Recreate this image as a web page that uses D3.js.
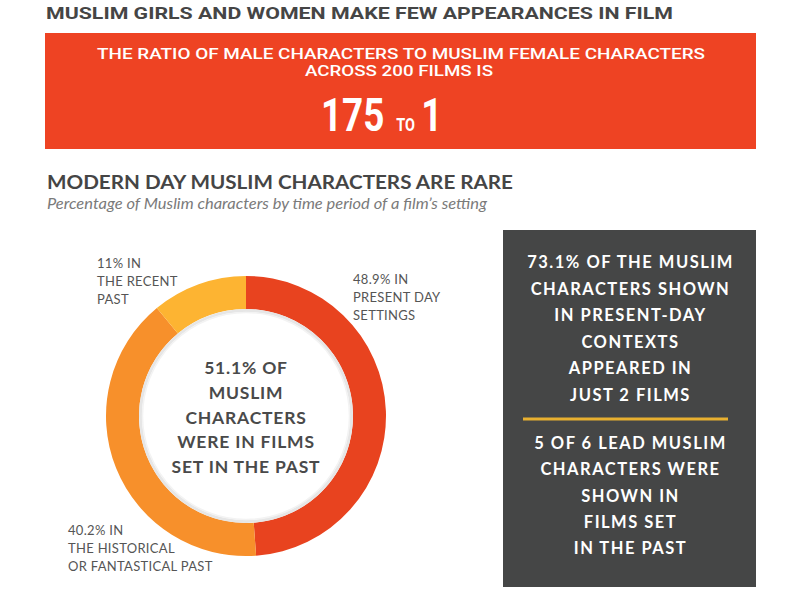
<!DOCTYPE html>
<html>
<head>
<meta charset="utf-8">
<script src="https://cdnjs.cloudflare.com/ajax/libs/d3/7.8.5/d3.min.js"></script>
<style>
  body { margin: 0; background: #ffffff; }
  svg { display: block; }
</style>
</head>
<body>
<div id="chart"></div>
<script>

// headings and banner texts
var mainTitle = "MUSLIM GIRLS AND WOMEN MAKE FEW APPEARANCES IN FILM";
var bannerLines = ["THE RATIO OF MALE CHARACTERS TO MUSLIM FEMALE CHARACTERS", "ACROSS 200 FILMS IS"];
var ratioMale = "175";
var ratioWord = "TO";
var ratioFemale = "1";
var chartTitle = "MODERN DAY MUSLIM CHARACTERS ARE RARE";
var chartSubtitle = "Percentage of Muslim characters by time period of a film\u2019s setting";

// donut data (percent of muslim characters by setting)
var periods = ["present", "historical", "recent"];
var shares = [48.9, 40.2, 11];
var periodLabels = [
  ["48.9% IN", "PRESENT DAY", "SETTINGS"],
  ["40.2% IN", "THE HISTORICAL", "OR FANTASTICAL PAST"],
  ["11% IN", "THE RECENT", "PAST"]
];
var centerLines = ["51.1% OF", "MUSLIM", "CHARACTERS", "WERE IN FILMS", "SET IN THE PAST"];

// side box texts
var boxTop = ["73.1% OF THE MUSLIM", "CHARACTERS SHOWN", "IN PRESENT-DAY", "CONTEXTS", "APPEARED IN", "JUST 2 FILMS"];
var boxBottom = ["5 OF 6 LEAD MUSLIM", "CHARACTERS WERE", "SHOWN IN", "FILMS SET", "IN THE PAST"];

var width = 800,
  height = 589;

var svg = d3.select("#chart")
  .append("svg")
    .attr("width", width)
    .attr("height", height);

svg.append("rect")
  .attr("width", width)
  .attr("height", height)
  .attr("fill", "#ffffff");

// squeezes a text to a given width
function fit(sel, w) {
  sel.attr("textLength", w).attr("lengthAdjust", "spacingAndGlyphs");
  return sel;
}

// main title
svg.append("text")
  .attr("x", 46)
  .attr("y", 19)
  .style("font", "700 17px Roboto, sans-serif")
  .style("fill", "#454545")
  .text(mainTitle)
  .call(fit, 627);

// red banner
svg.append("rect")
  .attr("x", 45)
  .attr("y", 33)
  .attr("width", 711)
  .attr("height", 116)
  .attr("fill", "#ee4323");

var bannerWidths = [608, 188];
svg.selectAll(".banner-line")
  .data(bannerLines)
  .enter().append("text")
    .attr("class", "banner-line")
    .attr("x", function(d, i) { return i === 0 ? 97 : 305; })
    .attr("y", function(d, i) { return 59 + i * 17; })
    .style("font", "500 14px Roboto, sans-serif")
    .style("fill", "#ffffff")
    .text(function(d) { return d; })
    .each(function(d, i) { d3.select(this).call(fit, bannerWidths[i]); });

// big ratio, one condensed text line
var ratio = svg.append("text")
  .attr("transform", "translate(321,131) scale(0.8,1)")
  .style("font", "700 46px Roboto, sans-serif")
  .style("fill", "#ffffff");

ratio.append("tspan")
  .text(ratioMale);

ratio.append("tspan")
  .attr("dx", 15)
  .style("font-size", "18px")
  .text(ratioWord);

ratio.append("tspan")
  .attr("dx", 8)
  .text(ratioFemale);

// section title and subtitle
svg.append("text")
  .attr("x", 47)
  .attr("y", 189)
  .style("font", "700 18px Lato, sans-serif")
  .style("fill", "#454545")
  .text(chartTitle)
  .call(fit, 466);

svg.append("text")
  .attr("x", 47)
  .attr("y", 209)
  .style("font", "italic 400 14.5px Lato, sans-serif")
  .style("fill", "#7a7a7a")
  .text(chartSubtitle)
  .call(fit, 440);

// donut
var cx = 246,
  cy = 416,
  outerR = 140,
  innerR = 107;

var color = d3.scaleOrdinal()
  .domain(periods)
  .range(["#e8431f", "#f7902b", "#fdb432"]);

var pie = d3.pie()
  .sort(null)
  .value(function(d) { return d.value; });

var arc = d3.arc()
  .innerRadius(innerR)
  .outerRadius(outerR);

var slices = periods.map(function(p, i) { return {key: p, value: shares[i]}; });

var donut = svg.append("g")
  .attr("transform", "translate(" + cx + "," + cy + ")");

donut.selectAll(".slice")
  .data(pie(slices))
  .enter().append("path")
    .attr("class", "slice")
    .attr("d", arc)
    .style("fill", function(d) { return color(d.data.key); });

// soft grey rim on the inside of the ring
donut.append("circle")
  .attr("r", innerR - 1.5)
  .attr("fill", "#ffffff")
  .attr("stroke", "#e6e6e6")
  .attr("stroke-width", 3);

donut.append("circle")
  .attr("r", innerR - 3.5)
  .attr("fill", "none")
  .attr("stroke", "#f3f3f3")
  .attr("stroke-width", 1.5);

// text inside the donut
donut.selectAll(".center-line")
  .data(centerLines)
  .enter().append("text")
    .attr("class", "center-line")
    .attr("x", 0)
    .attr("y", function(d, i) { return -42 + i * 24.8; })
    .attr("text-anchor", "middle")
    .style("font", "700 17.5px Lato, sans-serif")
    .style("letter-spacing", "0.8px")
    .style("fill", "#4a4a4a")
    .text(function(d) { return d; });

// labels for each slice
var labelPos = [[353, 284], [68, 535], [97, 268]];

periodLabels.forEach(function(lines, k) {
  svg.append("g")
    .selectAll("text")
    .data(lines)
    .enter().append("text")
      .attr("x", labelPos[k][0])
      .attr("y", function(d, i) { return labelPos[k][1] + i * 18; })
      .style("font", "400 13px Lato, sans-serif")
      .style("letter-spacing", "0.3px")
      .style("fill", "#555555")
      .text(function(d) { return d; });
});

// dark box on the right
var boxX = 503,
  boxW = 253,
  boxMid = boxX + boxW / 2 + 1;

svg.append("rect")
  .attr("x", boxX)
  .attr("y", 230)
  .attr("width", boxW)
  .attr("height", 357)
  .attr("fill", "#454646");

svg.selectAll(".box-top")
  .data(boxTop)
  .enter().append("text")
    .attr("class", "box-top")
    .attr("x", boxMid)
    .attr("y", function(d, i) { return 268 + i * 26.6; })
    .attr("text-anchor", "middle")
    .style("font", "700 16.5px Lato, sans-serif")
    .style("letter-spacing", "1.5px")
    .style("fill", "#ffffff")
    .text(function(d) { return d; });

svg.append("line")
  .attr("x1", 523)
  .attr("x2", 728)
  .attr("y1", 419)
  .attr("y2", 419)
  .attr("stroke", "#e8b030")
  .attr("stroke-width", 3);

svg.selectAll(".box-bottom")
  .data(boxBottom)
  .enter().append("text")
    .attr("class", "box-bottom")
    .attr("x", boxMid)
    .attr("y", function(d, i) { return 449 + i * 26.3; })
    .attr("text-anchor", "middle")
    .style("font", "700 16.5px Lato, sans-serif")
    .style("letter-spacing", "1.5px")
    .style("fill", "#ffffff")
    .text(function(d) { return d; });

</script>
</body>
</html>
